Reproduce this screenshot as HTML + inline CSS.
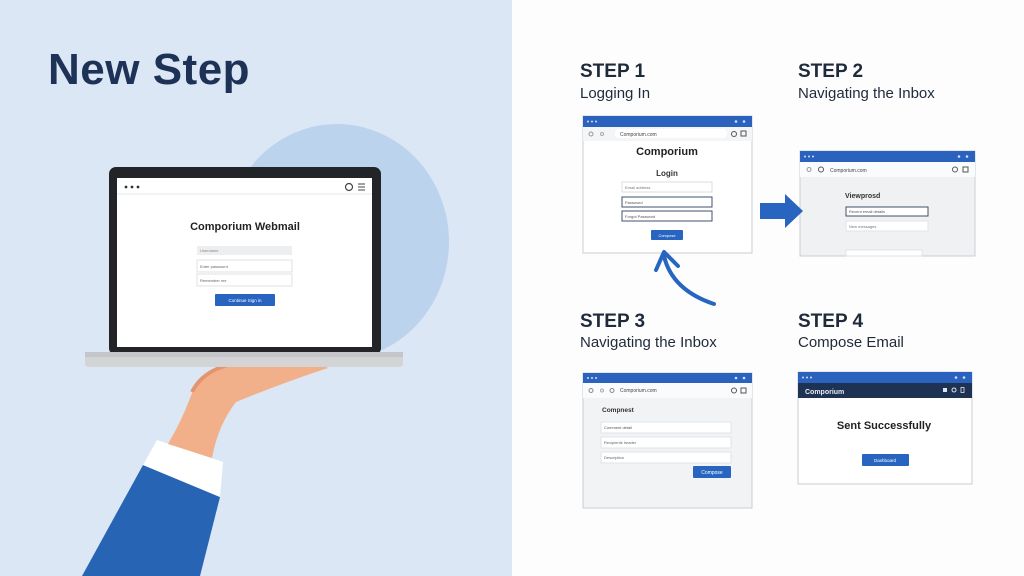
<!DOCTYPE html>
<html><head><meta charset="utf-8"><style>
html,body{margin:0;padding:0;width:1024px;height:576px;overflow:hidden;background:#fff}
svg{display:block}
text{font-family:"Liberation Sans",Arial,sans-serif}
</style></head><body>
<svg width="1024" height="576" viewBox="0 0 1024 576" xmlns="http://www.w3.org/2000/svg">
<rect x="0" y="0" width="512" height="576" fill="#dbe7f4"/>
<rect x="512" y="0" width="512" height="576" fill="#fdfdfe"/>
<text x="48" y="84" font-size="44" font-weight="bold" fill="#1d3256" letter-spacing="0.5">New Step</text>
<ellipse cx="337" cy="242" rx="112" ry="118" fill="#bcd3ee"/>
<!-- hand -->
<polygon points="82,576 143,465 220,497 200,576" fill="#2864b4"/>
<polygon points="143,465 157,440 223,462 220,497" fill="#ffffff"/>
<path d="M168,444 L212,458 Q218,425 236,402 Q285,382 328,368 L300,352 Q262,352 228,362 Q200,372 190,398 Q182,420 168,444 Z" fill="#f2b08a"/>
<path d="M192,392 Q202,372 228,365 L262,358" stroke="#e49570" stroke-width="4" fill="none"/>
<ellipse cx="280" cy="362" rx="8" ry="5" fill="#f6c2a2"/>
<!-- laptop -->
<rect x="109" y="167" width="272" height="188" rx="7" fill="#222427"/>
<rect x="117" y="178" width="255" height="169" fill="#ffffff"/>
<line x1="117" y1="194" x2="372" y2="194" stroke="#e6e8ea"/>
<circle cx="126" cy="187" r="1.4" fill="#333"/><circle cx="132" cy="187" r="1.4" fill="#333"/><circle cx="138" cy="187" r="1.4" fill="#333"/>
<circle cx="349" cy="187" r="3.5" fill="none" stroke="#444" stroke-width="1.2"/>
<path d="M358,184h7M358,187h7M358,190h7" stroke="#444" stroke-width="1"/>
<text x="245" y="230" font-size="11" font-weight="bold" fill="#222" text-anchor="middle">Comporium Webmail</text>
<rect x="197" y="246" width="95" height="9" fill="#eceef0"/>
<text x="200" y="252" font-size="4" fill="#888">Username</text>
<rect x="197" y="260" width="95" height="12" fill="#fff" stroke="#dde0e3"/>
<text x="200" y="268" font-size="4" fill="#666">Enter password</text>
<rect x="197" y="274" width="95" height="12" fill="#fff" stroke="#dde0e3"/>
<text x="200" y="282" font-size="4" fill="#666">Remember me</text>
<rect x="215" y="294" width="60" height="12" rx="1" fill="#2865c0"/>
<text x="245" y="302" font-size="4.5" fill="#fff" text-anchor="middle">Continue Sign in</text>
<rect x="85" y="352" width="318" height="15" rx="3" fill="#d3d4d6"/>
<rect x="85" y="352" width="318" height="5" fill="#c4c6c9"/>
<!-- labels -->
<g fill="#1f2a3a">
<text x="580" y="77" font-size="19" font-weight="bold">STEP 1</text>
<text x="580" y="98" font-size="15">Logging In</text>
<text x="798" y="77" font-size="19" font-weight="bold">STEP 2</text>
<text x="798" y="98" font-size="15">Navigating the Inbox</text>
<text x="580" y="327" font-size="19" font-weight="bold">STEP 3</text>
<text x="580" y="347" font-size="15">Navigating the Inbox</text>
<text x="798" y="327" font-size="19" font-weight="bold">STEP 4</text>
<text x="798" y="347" font-size="15">Compose Email</text>
</g>
<!-- window 1 -->
<g>
<rect x="583" y="116" width="169" height="137" fill="#fff" stroke="#c9cdd3"/>
<rect x="583" y="116" width="169" height="11" fill="#2a62bd"/>
<g fill="#cfe0f7"><circle cx="588" cy="121.5" r="1"/><circle cx="592" cy="121.5" r="1"/><circle cx="596" cy="121.5" r="1"/><circle cx="736" cy="121.5" r="1.3"/><circle cx="744" cy="121.5" r="1.3"/></g>
<rect x="583" y="127" width="169" height="14" fill="#f4f5f7"/>
<circle cx="591" cy="134" r="2" fill="none" stroke="#999"/><circle cx="602" cy="134" r="1.5" fill="none" stroke="#aaa"/>
<rect x="615" y="129" width="112" height="9" rx="4" fill="#fff"/>
<text x="620" y="136" font-size="5" fill="#444">Comporium.com</text>
<circle cx="734" cy="134" r="2.5" fill="none" stroke="#555"/><rect x="741" y="131" width="5" height="5" fill="none" stroke="#555"/>
<text x="667" y="155" font-size="11" font-weight="bold" fill="#222" text-anchor="middle">Comporium</text>
<text x="667" y="176" font-size="8" font-weight="bold" fill="#333" text-anchor="middle">Login</text>
<rect x="622" y="182" width="90" height="10" fill="#fff" stroke="#d9dce0"/>
<text x="625" y="189" font-size="4" fill="#777">Email address</text>
<rect x="622" y="197" width="90" height="10" fill="#fff" stroke="#3f5068"/>
<text x="625" y="204" font-size="4" fill="#555">Password</text>
<rect x="622" y="211" width="90" height="10" fill="#fff" stroke="#3f5068"/>
<text x="625" y="218" font-size="4" fill="#555">Forgot Password</text>
<rect x="651" y="230" width="32" height="10" rx="1" fill="#2865c0"/>
<text x="667" y="237" font-size="4" fill="#fff" text-anchor="middle">Compose</text>
</g>
<!-- window 2 -->
<g>
<rect x="800" y="151" width="175" height="105" fill="#f0f1f3" stroke="#c9cdd3"/>
<rect x="800" y="151" width="175" height="11" fill="#2a62bd"/>
<g fill="#cfe0f7"><circle cx="805" cy="156.5" r="1"/><circle cx="809" cy="156.5" r="1"/><circle cx="813" cy="156.5" r="1"/><circle cx="959" cy="156.5" r="1.3"/><circle cx="967" cy="156.5" r="1.3"/></g>
<rect x="800" y="162" width="175" height="15" fill="#fafbfc"/>
<circle cx="809" cy="169.5" r="2" fill="none" stroke="#999"/><circle cx="821" cy="169.5" r="2.5" fill="none" stroke="#555"/>
<text x="830" y="172" font-size="5" fill="#444">Comporium.com</text>
<circle cx="955" cy="169.5" r="2.5" fill="none" stroke="#555"/><rect x="963" y="167" width="5" height="5" fill="none" stroke="#555"/>
<text x="845" y="198" font-size="7" font-weight="bold" fill="#333">Viewprosd</text>
<rect x="846" y="207" width="82" height="9" fill="#fff" stroke="#3f5068"/>
<text x="849" y="213" font-size="4" fill="#555">Recent email details</text>
<rect x="846" y="221" width="82" height="10" fill="#fff" stroke="#e1e3e6"/>
<text x="849" y="228" font-size="4" fill="#777">New messages</text>
<rect x="846" y="250" width="76" height="6" fill="#fff" stroke="#e1e3e6"/>
</g>
<!-- window 3 -->
<g>
<rect x="583" y="373" width="169" height="135" fill="#f2f3f5" stroke="#c9cdd3"/>
<rect x="583" y="373" width="169" height="10" fill="#2a62bd"/>
<g fill="#cfe0f7"><circle cx="588" cy="378" r="1"/><circle cx="592" cy="378" r="1"/><circle cx="596" cy="378" r="1"/><circle cx="736" cy="378" r="1.3"/><circle cx="744" cy="378" r="1.3"/></g>
<rect x="583" y="383" width="169" height="15" fill="#fafbfc"/>
<circle cx="591" cy="390.5" r="2" fill="none" stroke="#888"/><circle cx="602" cy="390.5" r="1.5" fill="none" stroke="#aaa"/><circle cx="612" cy="390.5" r="2" fill="none" stroke="#888"/>
<text x="620" y="392" font-size="5" fill="#444">Comporium.com</text>
<circle cx="734" cy="390.5" r="2.5" fill="none" stroke="#555"/><rect x="741" y="388" width="5" height="5" fill="none" stroke="#555"/>
<text x="602" y="412" font-size="6.5" font-weight="bold" fill="#333">Compnest</text>
<rect x="601" y="422" width="130" height="11" fill="#fff" stroke="#e1e3e6"/>
<text x="604" y="429" font-size="4" fill="#555">Comment detail</text>
<rect x="601" y="437" width="130" height="11" fill="#fff" stroke="#e1e3e6"/>
<text x="604" y="444" font-size="4" fill="#666">Recipients header</text>
<rect x="601" y="452" width="130" height="11" fill="#fff" stroke="#e1e3e6"/>
<text x="604" y="459" font-size="4" fill="#666">Description</text>
<rect x="693" y="466" width="38" height="12" rx="1" fill="#2865c0"/>
<text x="712" y="474" font-size="5" fill="#fff" text-anchor="middle">Compose</text>
</g>
<!-- window 4 -->
<g>
<rect x="798" y="372" width="174" height="112" fill="#fff" stroke="#c9cdd3"/>
<rect x="798" y="372" width="174" height="11" fill="#2a62bd"/>
<g fill="#cfe0f7"><circle cx="803" cy="377.5" r="1"/><circle cx="807" cy="377.5" r="1"/><circle cx="811" cy="377.5" r="1"/><circle cx="956" cy="377.5" r="1.3"/><circle cx="964" cy="377.5" r="1.3"/></g>
<rect x="798" y="383" width="174" height="15" fill="#1e3354"/>
<text x="805" y="394" font-size="7" font-weight="bold" fill="#e6ebf3">Comporium</text>
<rect x="943" y="388" width="4" height="4" fill="#dfe5ee"/><circle cx="954" cy="390" r="2" fill="none" stroke="#dfe5ee"/><rect x="961" y="387.5" width="3" height="5" fill="none" stroke="#dfe5ee" stroke-width="0.8"/>
<text x="884" y="429" font-size="11" font-weight="bold" fill="#222" text-anchor="middle">Sent Successfully</text>
<rect x="862" y="454" width="47" height="12" rx="1" fill="#2865c0"/>
<text x="885" y="462" font-size="4.5" fill="#fff" text-anchor="middle">Dashboard</text>
</g>
<!-- arrows -->
<polygon points="760,203 785,203 785,194 803,211 785,228 785,219 760,219" fill="#2865c0"/>
<path d="M714,304 Q672,290 664,256" stroke="#2865c0" stroke-width="4" fill="none" stroke-linecap="round"/>
<path d="M656,270 L664,252 L678,266" stroke="#2865c0" stroke-width="4" fill="none" stroke-linecap="round" stroke-linejoin="round"/>
</svg>
</body></html>
